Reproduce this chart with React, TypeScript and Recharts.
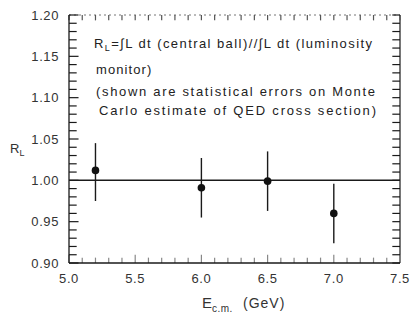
import { ScatterChart, Scatter, XAxis, YAxis, ErrorBar, ReferenceLine, Customized } from 'recharts'

const energies = [5.2, 6.0, 6.5, 7.0]
const rl = [1.012, 0.991, 0.999, 0.96]
const rlHigh = [1.045, 1.027, 1.035, 0.996]
const rlLow = [0.975, 0.955, 0.963, 0.924]

const xMajor = [5.0, 5.5, 6.0, 6.5, 7.0, 7.5]
const yMajor = [0.9, 0.95, 1.0, 1.05, 1.1, 1.15, 1.2]

// minor ticks: every 0.1 GeV on x, every 0.01 on y
const xTicks = Array.from({ length: 26 }, (_, i) => +(5 + i * 0.1).toFixed(1))
const yTicks = Array.from({ length: 31 }, (_, i) => +(0.9 + i * 0.01).toFixed(2))

const data = energies.map((e, i) => ({
  e,
  r: rl[i],
  err: [+(rl[i] - rlLow[i]).toFixed(3), +(rlHigh[i] - rl[i]).toFixed(3)],
}))

const FONT = '"Liberation Sans", Arial, sans-serif'
const INK = '#1a1a1a'

// tick lengths in axis units (~8px across, ~5px up)
const TX = 0.058
const TXM = 0.072
const TY = 0.0065
const TYM = 0.01

const isMajor = (v: number, list: number[]) => list.some(m => Math.abs(m - v) < 1e-6)

function XLabel({ x, y, payload }: any) {
  return (
    <text x={x} y={y + 20} textAnchor="middle" fontSize={13} letterSpacing={0.6} fill="#333" fontFamily={FONT}>
      {payload.value.toFixed(1)}
    </text>
  )
}

function YLabel({ x, y, payload }: any) {
  return (
    <text x={x - 10} y={y + 4.5} textAnchor="end" fontSize={13} letterSpacing={0.6} fill="#333" fontFamily={FONT}>
      {payload.value.toFixed(2)}
    </text>
  )
}

function Notes() {
  const t = { fontSize: 13, fill: '#222', fontFamily: FONT }
  return (
    <g>
      <text x={94} y={48} {...t} textLength={278} lengthAdjust="spacing">
        R<tspan fontSize={9} dy={3}>L</tspan>
        <tspan dy={-3}>=∫L dt (central ball)//∫L dt (luminosity</tspan>
      </text>
      <text x={96} y={74} {...t} letterSpacing={1.1}>monitor)</text>
      <text x={96} y={96} {...t} textLength={279} lengthAdjust="spacing">
        (shown are statistical errors on Monte
      </text>
      <text x={99} y={115} {...t} textLength={277} lengthAdjust="spacing">
        Carlo estimate of QED cross section)
      </text>
      <text x={10} y={153} {...t} fill="#333">
        R<tspan fontSize={9} dy={3}>L</tspan>
      </text>
      <text x={202} y={308} {...t} fontSize={15} fill="#333">
        E<tspan fontSize={10} dy={4} letterSpacing={0.5}>c.m.</tspan>
      </text>
      <text x={243} y={308} {...t} fontSize={14} letterSpacing={1} fill="#333">(GeV)</text>
    </g>
  )
}

export default function App() {
  return (
    <div style={{ position: 'absolute', left: 0, top: 0 }}>
      <ScatterChart width={411} height={321} margin={{ top: 15, right: 11, bottom: 28, left: 0 }}>
        <XAxis
          type="number"
          dataKey="e"
          domain={[5, 7.5]}
          ticks={xMajor}
          interval={0}
          tickLine={false}
          tickSize={0}
          tickMargin={0}
          height={30}
          axisLine={{ stroke: INK, strokeWidth: 1.3 }}
          tick={<XLabel />}
        />
        <YAxis
          type="number"
          dataKey="r"
          domain={[0.9, 1.2]}
          ticks={yMajor}
          interval={0}
          tickLine={false}
          tickSize={0}
          tickMargin={0}
          width={69}
          axisLine={{ stroke: INK, strokeWidth: 1.3 }}
          tick={<YLabel />}
        />
        <ReferenceLine y={1.2} stroke="#777" strokeWidth={1} strokeDasharray="2 3" />
        <ReferenceLine x={7.5} stroke={INK} strokeWidth={1.2} />
        {xTicks.map(v => (
          <ReferenceLine
            key={'xb' + v}
            segment={[{ x: v, y: 0.9 }, { x: v, y: 0.9 + (isMajor(v, xMajor) ? TYM : TY) }]}
            stroke="#888"
            strokeWidth={1.2}
          />
        ))}
        {xTicks.map(v => (
          <ReferenceLine
            key={'xt' + v}
            segment={[{ x: v, y: 1.2 }, { x: v, y: 1.2 - TY }]}
            stroke="#555"
            strokeWidth={1.2}
          />
        ))}
        {yTicks.map(v => (
          <ReferenceLine
            key={'yl' + v}
            segment={[{ x: 5, y: v }, { x: 5 + (isMajor(v, yMajor) ? TXM : TX), y: v }]}
            stroke={INK}
            strokeWidth={1.2}
          />
        ))}
        {yTicks.map(v => (
          <ReferenceLine
            key={'yr' + v}
            segment={[{ x: 7.5 - TX, y: v }, { x: 7.5, y: v }]}
            stroke={INK}
            strokeWidth={1.2}
          />
        ))}
        <ReferenceLine y={1} stroke={INK} strokeWidth={1.5} />
        <Scatter
          data={data}
          isAnimationActive={false}
          shape={(p: any) => <circle cx={p.cx} cy={p.cy} r={3.8} fill="#111" />}
        >
          <ErrorBar dataKey="err" direction="y" width={0} stroke={INK} strokeWidth={1.4} isAnimationActive={false} />
        </Scatter>
        <Customized component={<Notes />} />
      </ScatterChart>
    </div>
  )
}
